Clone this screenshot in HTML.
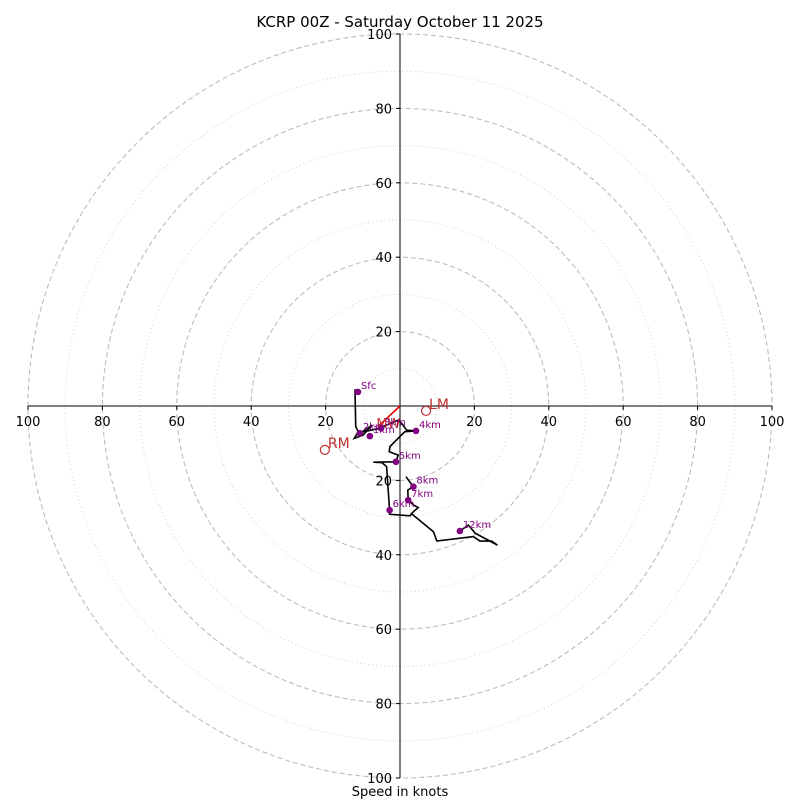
<!DOCTYPE html>
<html><head><meta charset="utf-8"><style>
body{margin:0;background:#fff;}
svg text{font-family:"DejaVu Sans","Liberation Sans",sans-serif;}
</style></head><body>
<svg id="c" width="800" height="800" viewBox="0 0 800 800">
<text x="400" y="27" font-size="15" text-anchor="middle">KCRP 00Z - Saturday October 11 2025</text>
<text x="400" y="796" font-size="13" text-anchor="middle">Speed in knots</text>
<g id="rings"></g><g id="axes"></g><g id="marks"></g>
</svg>
<script>
const ringValues=[10,20,30,40,50,60,70,80,90,100];
const tickValues=[20,40,60,80,100];
// hodograph path (u, v knots)
const pathU=[-12.1,-11.9,-11.2,-12.3,-9.9,-7.5,-10.2,-5.4,-2.7,-0.5,0.5,1.8,4.3,1.3,-0.5,-2.7,-2.9,-0.5,-1.1,-7.2,-4.9,-3.6,-2.8,-2.8,2.7,3.6,4.9,3.6,2.2,2.1,3.6,1.6];
const pathV=[4.5,-5.6,-6.9,-8.7,-7.8,-5.1,-7.0,-6.0,-4.7,-3.8,-4.7,-6.5,-6.7,-6.9,-8.7,-10.9,-12.3,-13.2,-15.0,-15.1,-15.2,-16.3,-28.0,-29.1,-29.5,-28.4,-27.3,-26.6,-25.3,-22.6,-21.7,-19.0];
const upperU=[2.9,9.0,9.9,19.7,21.5,24.6,26.2,20.2,18.4,16.1];
const upperV=[-28.8,-33.8,-36.3,-35.1,-36.3,-36.3,-37.4,-34.2,-32.0,-33.6];
const levelLabels=["Sfc","1km","2km","3km","4km","5km","6km","7km","8km","12km"];
const levelU=[-11.3,-8.1,-10.8,-5.1,4.3,-1.1,-2.8,2.2,3.6,16.1];
const levelV=[3.8,-8.1,-7.3,-6.0,-6.7,-15.0,-28.0,-25.3,-21.7,-33.6];
const stormLabels=["LM","RM"];
const stormU=[7.0,-20.2];
const stormV=[-1.3,-11.8];
const mwU=-5.8, mwV=-5.4;

const cx=400,cy=406,R=372,maxV=100;
const sx=u=>cx+u*R/maxV, sy=v=>cy-v*R/maxV, sr=s=>s*R/maxV;
const NS='http://www.w3.org/2000/svg';
function mk(tag,attrs,parent){const e=document.createElementNS(NS,tag);for(const k in attrs)e.setAttribute(k,attrs[k]);parent.appendChild(e);return e;}
const rings=document.getElementById('rings'),axes=document.getElementById('axes'),marks=document.getElementById('marks');
ringValues.forEach(r=>{
 const major=r%20===0;
 const c=mk('circle',{cx:cx,cy:cy,r:sr(r),fill:'none',stroke:major?'#bdbdbd':'#d0d0d0','stroke-width':major?1.1:1,'stroke-dasharray':major?'5,3':'1,3'},rings);
 
 
});
let l=mk('line',{x1:sx(-100),y1:cy,x2:sx(100),y2:cy,stroke:'#000','stroke-width':1},axes);


l=mk('line',{x1:cx,y1:sy(100),x2:cx,y2:sy(-100),stroke:'#000','stroke-width':1},axes);


tickValues.forEach(t=>{
 [-1,1].forEach(s=>{
  mk('line',{x1:sx(s*t),y1:cy,x2:sx(s*t),y2:cy+4,stroke:'#000'},axes);
  let tx=mk('text',{x:sx(s*t),y:cy+20,'font-size':13,'text-anchor':'middle'},axes);
  tx.textContent=t;
  
  
  mk('line',{x1:cx-4,y1:sy(s*t),x2:cx,y2:sy(s*t),stroke:'#000'},axes);
  let ty=mk('text',{x:cx-8,y:sy(s*t)+5,'font-size':13,'text-anchor':'end'},axes);
  ty.textContent=t;
  
  
 });
});
let p=mk('polyline',{points:pathU.map((u,i)=>sx(u)+','+sy(pathV[i])).join(' '),fill:'none',stroke:'#000','stroke-width':1.6},marks);


p=mk('polyline',{points:upperU.map((u,i)=>sx(u)+','+sy(upperV[i])).join(' '),fill:'none',stroke:'#000','stroke-width':1.6},marks);


let mw=mk('line',{x1:cx,y1:cy,x2:sx(mwU),y2:sy(mwV),stroke:'#e00','stroke-width':1.6},marks);


let mwt=mk('text',{x:sx(mwU)-2,y:sy(mwV)+2,'font-size':13,fill:'#c03030'},marks);
mwt.textContent='MW';


levelLabels.forEach((n,i)=>{
 const d=mk('circle',{cx:sx(levelU[i]),cy:sy(levelV[i]),r:3.3,fill:'#800080'},marks);
 
 
 const t=mk('text',{x:sx(levelU[i])+3,y:sy(levelV[i])-3,'font-size':10,fill:'#800080'},marks);
 t.textContent=n;
 
 
});
stormLabels.forEach((n,i)=>{
 const c=mk('circle',{cx:sx(stormU[i]),cy:sy(stormV[i]),r:4.5,fill:'none',stroke:'#c03030','stroke-width':1.2},marks);
 
 
 const t=mk('text',{x:sx(stormU[i])+3,y:sy(stormV[i])-2,'font-size':14,fill:'#c03030'},marks);
 t.textContent=n;
 
 
});
</script>
</body></html>
